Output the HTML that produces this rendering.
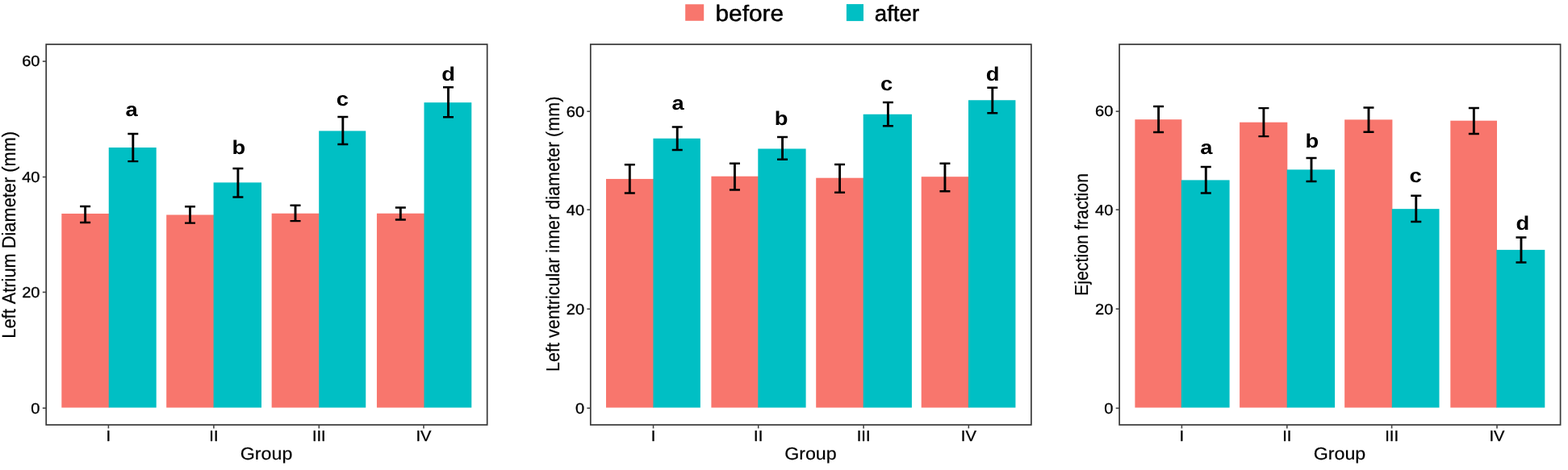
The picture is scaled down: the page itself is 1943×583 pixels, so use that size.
<!DOCTYPE html>
<html lang="en">
<head>
<meta charset="utf-8">
<title>Echocardiographic parameters before and after</title>
<style>
html,body{margin:0;padding:0;background:#fff;}
body{width:1943px;height:583px;overflow:hidden;}
svg{display:block;filter:blur(0.7px);}
text{font-kerning:none;text-rendering:geometricPrecision;}
</style>
</head>
<body>
<svg width="1943" height="583" viewBox="0 0 1943 583" font-family="'Liberation Sans', Arial, Helvetica, sans-serif">
<rect width="1943" height="583" fill="#ffffff"/>
<g class="legend">
<rect x="849.2" y="5.3" width="23.0" height="20.5" fill="#F8766D"/>
<text transform="translate(886.40 25.55) scale(1.075 1)" font-size="27.8" text-anchor="start" fill="#000000" stroke="#000000" stroke-width="0.47" stroke-linejoin="round">before</text>
<rect x="1048.9" y="5.1" width="21.1" height="21.0" fill="#00BFC4"/>
<text transform="translate(1083.80 25.55) scale(0.995 1)" font-size="27.8" text-anchor="start" fill="#000000" stroke="#000000" stroke-width="0.47" stroke-linejoin="round">after</text>
</g>
<g class="panel">
<rect x="76.30" y="265.00" width="59.05" height="240.60" fill="#F8766D"/>
<rect x="134.75" y="183.00" width="58.95" height="322.60" fill="#00BFC4"/>
<rect x="206.20" y="266.50" width="59.00" height="239.10" fill="#F8766D"/>
<rect x="264.60" y="226.40" width="59.40" height="279.20" fill="#00BFC4"/>
<rect x="336.65" y="264.75" width="59.15" height="240.85" fill="#F8766D"/>
<rect x="395.20" y="162.40" width="58.05" height="343.20" fill="#00BFC4"/>
<rect x="466.95" y="264.75" width="59.15" height="240.85" fill="#F8766D"/>
<rect x="525.50" y="127.15" width="58.80" height="378.45" fill="#00BFC4"/>
<path d="M99.12 256.00H112.12M99.12 276.00H112.12" stroke="#000" stroke-width="2.45" fill="none"/>
<path d="M105.62 256.00V276.00" stroke="#000" stroke-width="2.9" fill="none"/>
<path d="M158.32 165.90H171.32M158.32 200.10H171.32" stroke="#000" stroke-width="2.45" fill="none"/>
<path d="M164.82 165.90V200.10" stroke="#000" stroke-width="2.9" fill="none"/>
<path d="M229.00 256.30H242.00M229.00 276.60H242.00" stroke="#000" stroke-width="2.45" fill="none"/>
<path d="M235.50 256.30V276.60" stroke="#000" stroke-width="2.9" fill="none"/>
<path d="M288.40 208.90H301.40M288.40 244.40H301.40" stroke="#000" stroke-width="2.45" fill="none"/>
<path d="M294.90 208.90V244.40" stroke="#000" stroke-width="2.9" fill="none"/>
<path d="M359.52 254.80H372.52M359.52 274.10H372.52" stroke="#000" stroke-width="2.45" fill="none"/>
<path d="M366.02 254.80V274.10" stroke="#000" stroke-width="2.9" fill="none"/>
<path d="M418.33 144.90H431.33M418.33 178.90H431.33" stroke="#000" stroke-width="2.45" fill="none"/>
<path d="M424.83 144.90V178.90" stroke="#000" stroke-width="2.9" fill="none"/>
<path d="M489.83 257.50H502.83M489.83 272.50H502.83" stroke="#000" stroke-width="2.45" fill="none"/>
<path d="M496.33 257.50V272.50" stroke="#000" stroke-width="2.9" fill="none"/>
<path d="M549.00 108.15H562.00M549.00 145.15H562.00" stroke="#000" stroke-width="2.45" fill="none"/>
<path d="M555.50 108.15V145.15" stroke="#000" stroke-width="2.9" fill="none"/>
<text transform="translate(163.20 143.70) scale(1.14 1)" font-size="24.0" text-anchor="middle" font-weight="bold" fill="#000000">a</text>
<text transform="translate(295.90 190.90) scale(1.14 1)" font-size="24.0" text-anchor="middle" font-weight="bold" fill="#000000">b</text>
<text transform="translate(424.30 130.50) scale(1.14 1)" font-size="24.0" text-anchor="middle" font-weight="bold" fill="#000000">c</text>
<text transform="translate(555.50 99.50) scale(1.14 1)" font-size="24.0" text-anchor="middle" font-weight="bold" fill="#000000">d</text>
<rect x="57.20" y="55.00" width="546.50" height="472.00" fill="none" stroke="#383838" stroke-width="1.7"/>
<path d="M52.80 506.25H57.20" stroke="#444444" stroke-width="1.6"/>
<text transform="translate(49.50 513.10) scale(1.075 1)" font-size="18.7" text-anchor="end" fill="#000000" stroke="#000000" stroke-width="0.32" stroke-linejoin="round">0</text>
<path d="M52.80 362.45H57.20" stroke="#444444" stroke-width="1.6"/>
<text transform="translate(49.50 369.40) scale(1.075 1)" font-size="18.7" text-anchor="end" fill="#000000" stroke="#000000" stroke-width="0.32" stroke-linejoin="round">20</text>
<path d="M52.80 219.55H57.20" stroke="#444444" stroke-width="1.6"/>
<text transform="translate(49.50 226.40) scale(1.075 1)" font-size="18.7" text-anchor="end" fill="#000000" stroke="#000000" stroke-width="0.32" stroke-linejoin="round">40</text>
<path d="M52.80 76.10H57.20" stroke="#444444" stroke-width="1.6"/>
<text transform="translate(49.50 82.40) scale(1.075 1)" font-size="18.7" text-anchor="end" fill="#000000" stroke="#000000" stroke-width="0.32" stroke-linejoin="round">60</text>
<path d="M134.40 527.00V531.40" stroke="#444444" stroke-width="1.6"/>
<text transform="translate(134.40 546.80) scale(1.075 1)" font-size="18.7" text-anchor="middle" fill="#000000" stroke="#000000" stroke-width="0.32" stroke-linejoin="round">I</text>
<path d="M264.90 527.00V531.40" stroke="#444444" stroke-width="1.6"/>
<text transform="translate(264.90 546.80) scale(1.075 1)" font-size="18.7" text-anchor="middle" fill="#000000" stroke="#000000" stroke-width="0.32" stroke-linejoin="round">II</text>
<path d="M395.30 527.00V531.40" stroke="#444444" stroke-width="1.6"/>
<text transform="translate(395.30 546.80) scale(1.075 1)" font-size="18.7" text-anchor="middle" fill="#000000" stroke="#000000" stroke-width="0.32" stroke-linejoin="round">III</text>
<path d="M525.00 527.00V531.40" stroke="#444444" stroke-width="1.6"/>
<text transform="translate(525.00 546.80) scale(1.075 1)" font-size="18.7" text-anchor="middle" fill="#000000" stroke="#000000" stroke-width="0.32" stroke-linejoin="round">IV</text>
<text transform="translate(330.05 570.20) scale(1.075 1)" font-size="21.6" text-anchor="middle" fill="#000000" stroke="#000000" stroke-width="0.19" stroke-linejoin="round">Group</text>
<text transform="translate(18.90 291.30) scale(1.075 1) rotate(-90)" font-size="21.8" text-anchor="middle" fill="#000000" stroke="#000000" stroke-width="0.2" stroke-linejoin="round">Left Atrium Diameter (mm)</text>
</g>
<g class="panel">
<rect x="751.00" y="221.95" width="59.05" height="283.65" fill="#F8766D"/>
<rect x="809.45" y="171.75" width="58.40" height="333.85" fill="#00BFC4"/>
<rect x="881.40" y="218.70" width="58.50" height="286.90" fill="#F8766D"/>
<rect x="939.30" y="184.50" width="59.30" height="321.10" fill="#00BFC4"/>
<rect x="1011.20" y="220.70" width="59.10" height="284.90" fill="#F8766D"/>
<rect x="1069.70" y="141.75" width="60.20" height="363.85" fill="#00BFC4"/>
<rect x="1141.70" y="219.20" width="58.85" height="286.40" fill="#F8766D"/>
<rect x="1199.95" y="124.25" width="58.45" height="381.35" fill="#00BFC4"/>
<path d="M773.83 204.20H786.83M773.83 239.45H786.83" stroke="#000" stroke-width="2.45" fill="none"/>
<path d="M780.33 204.20V239.45" stroke="#000" stroke-width="2.9" fill="none"/>
<path d="M832.75 157.50H845.75M832.75 186.00H845.75" stroke="#000" stroke-width="2.45" fill="none"/>
<path d="M839.25 157.50V186.00" stroke="#000" stroke-width="2.9" fill="none"/>
<path d="M903.95 202.70H916.95M903.95 235.45H916.95" stroke="#000" stroke-width="2.45" fill="none"/>
<path d="M910.45 202.70V235.45" stroke="#000" stroke-width="2.9" fill="none"/>
<path d="M963.05 170.00H976.05M963.05 197.75H976.05" stroke="#000" stroke-width="2.45" fill="none"/>
<path d="M969.55 170.00V197.75" stroke="#000" stroke-width="2.9" fill="none"/>
<path d="M1034.05 203.95H1047.05M1034.05 238.70H1047.05" stroke="#000" stroke-width="2.45" fill="none"/>
<path d="M1040.55 203.95V238.70" stroke="#000" stroke-width="2.9" fill="none"/>
<path d="M1093.90 127.00H1106.90M1093.90 156.25H1106.90" stroke="#000" stroke-width="2.45" fill="none"/>
<path d="M1100.40 127.00V156.25" stroke="#000" stroke-width="2.9" fill="none"/>
<path d="M1164.42 202.70H1177.42M1164.42 237.20H1177.42" stroke="#000" stroke-width="2.45" fill="none"/>
<path d="M1170.92 202.70V237.20" stroke="#000" stroke-width="2.9" fill="none"/>
<path d="M1223.28 108.75H1236.28M1223.28 140.25H1236.28" stroke="#000" stroke-width="2.45" fill="none"/>
<path d="M1229.78 108.75V140.25" stroke="#000" stroke-width="2.9" fill="none"/>
<text transform="translate(840.00 135.50) scale(1.14 1)" font-size="24.0" text-anchor="middle" font-weight="bold" fill="#000000">a</text>
<text transform="translate(968.00 154.50) scale(1.14 1)" font-size="24.0" text-anchor="middle" font-weight="bold" fill="#000000">b</text>
<text transform="translate(1098.50 112.00) scale(1.14 1)" font-size="24.0" text-anchor="middle" font-weight="bold" fill="#000000">c</text>
<text transform="translate(1230.00 99.50) scale(1.14 1)" font-size="24.0" text-anchor="middle" font-weight="bold" fill="#000000">d</text>
<rect x="731.80" y="55.00" width="546.05" height="472.00" fill="none" stroke="#383838" stroke-width="1.7"/>
<path d="M727.40 506.30H731.80" stroke="#444444" stroke-width="1.6"/>
<text transform="translate(724.10 512.85) scale(1.075 1)" font-size="18.7" text-anchor="end" fill="#000000" stroke="#000000" stroke-width="0.32" stroke-linejoin="round">0</text>
<path d="M727.40 383.30H731.80" stroke="#444444" stroke-width="1.6"/>
<text transform="translate(724.10 390.00) scale(1.075 1)" font-size="18.7" text-anchor="end" fill="#000000" stroke="#000000" stroke-width="0.32" stroke-linejoin="round">20</text>
<path d="M727.40 260.10H731.80" stroke="#444444" stroke-width="1.6"/>
<text transform="translate(724.10 266.65) scale(1.075 1)" font-size="18.7" text-anchor="end" fill="#000000" stroke="#000000" stroke-width="0.32" stroke-linejoin="round">40</text>
<path d="M727.40 138.20H731.80" stroke="#444444" stroke-width="1.6"/>
<text transform="translate(724.10 144.65) scale(1.075 1)" font-size="18.7" text-anchor="end" fill="#000000" stroke="#000000" stroke-width="0.32" stroke-linejoin="round">60</text>
<path d="M809.55 527.00V531.40" stroke="#444444" stroke-width="1.6"/>
<text transform="translate(809.55 546.80) scale(1.075 1)" font-size="18.7" text-anchor="middle" fill="#000000" stroke="#000000" stroke-width="0.32" stroke-linejoin="round">I</text>
<path d="M939.70 527.00V531.40" stroke="#444444" stroke-width="1.6"/>
<text transform="translate(939.70 546.80) scale(1.075 1)" font-size="18.7" text-anchor="middle" fill="#000000" stroke="#000000" stroke-width="0.32" stroke-linejoin="round">II</text>
<path d="M1070.10 527.00V531.40" stroke="#444444" stroke-width="1.6"/>
<text transform="translate(1070.10 546.80) scale(1.075 1)" font-size="18.7" text-anchor="middle" fill="#000000" stroke="#000000" stroke-width="0.32" stroke-linejoin="round">III</text>
<path d="M1200.30 527.00V531.40" stroke="#444444" stroke-width="1.6"/>
<text transform="translate(1200.30 546.80) scale(1.075 1)" font-size="18.7" text-anchor="middle" fill="#000000" stroke="#000000" stroke-width="0.32" stroke-linejoin="round">IV</text>
<text transform="translate(1004.42 570.20) scale(1.075 1)" font-size="21.6" text-anchor="middle" fill="#000000" stroke="#000000" stroke-width="0.19" stroke-linejoin="round">Group</text>
<text transform="translate(692.50 290.30) scale(1.075 1) rotate(-90)" font-size="21.55" text-anchor="middle" fill="#000000" stroke="#000000" stroke-width="0.19" stroke-linejoin="round">Left ventricular inner diameter (mm)</text>
</g>
<g class="panel">
<rect x="1406.40" y="148.20" width="58.00" height="357.40" fill="#F8766D"/>
<rect x="1463.80" y="223.40" width="59.80" height="282.20" fill="#00BFC4"/>
<rect x="1536.10" y="151.70" width="59.20" height="353.90" fill="#F8766D"/>
<rect x="1594.70" y="210.40" width="59.40" height="295.20" fill="#00BFC4"/>
<rect x="1666.15" y="148.40" width="59.25" height="357.20" fill="#F8766D"/>
<rect x="1724.80" y="259.15" width="58.70" height="246.45" fill="#00BFC4"/>
<rect x="1797.30" y="149.70" width="57.70" height="355.90" fill="#F8766D"/>
<rect x="1854.40" y="309.90" width="59.90" height="195.70" fill="#00BFC4"/>
<path d="M1429.10 131.90H1442.10M1429.10 164.00H1442.10" stroke="#000" stroke-width="2.45" fill="none"/>
<path d="M1435.60 131.90V164.00" stroke="#000" stroke-width="2.9" fill="none"/>
<path d="M1487.80 206.90H1500.80M1487.80 239.40H1500.80" stroke="#000" stroke-width="2.45" fill="none"/>
<path d="M1494.30 206.90V239.40" stroke="#000" stroke-width="2.9" fill="none"/>
<path d="M1559.40 134.10H1572.40M1559.40 169.10H1572.40" stroke="#000" stroke-width="2.45" fill="none"/>
<path d="M1565.90 134.10V169.10" stroke="#000" stroke-width="2.9" fill="none"/>
<path d="M1618.50 195.90H1631.50M1618.50 224.90H1631.50" stroke="#000" stroke-width="2.45" fill="none"/>
<path d="M1625.00 195.90V224.90" stroke="#000" stroke-width="2.9" fill="none"/>
<path d="M1689.47 133.40H1702.47M1689.47 163.70H1702.47" stroke="#000" stroke-width="2.45" fill="none"/>
<path d="M1695.97 133.40V163.70" stroke="#000" stroke-width="2.9" fill="none"/>
<path d="M1748.25 242.65H1761.25M1748.25 274.90H1761.25" stroke="#000" stroke-width="2.45" fill="none"/>
<path d="M1754.75 242.65V274.90" stroke="#000" stroke-width="2.9" fill="none"/>
<path d="M1819.85 133.90H1832.85M1819.85 165.90H1832.85" stroke="#000" stroke-width="2.45" fill="none"/>
<path d="M1826.35 133.90V165.90" stroke="#000" stroke-width="2.9" fill="none"/>
<path d="M1878.45 294.40H1891.45M1878.45 325.40H1891.45" stroke="#000" stroke-width="2.45" fill="none"/>
<path d="M1884.95 294.40V325.40" stroke="#000" stroke-width="2.9" fill="none"/>
<text transform="translate(1494.90 190.60) scale(1.14 1)" font-size="24.0" text-anchor="middle" font-weight="bold" fill="#000000">a</text>
<text transform="translate(1625.80 183.00) scale(1.14 1)" font-size="24.0" text-anchor="middle" font-weight="bold" fill="#000000">b</text>
<text transform="translate(1754.00 226.00) scale(1.14 1)" font-size="24.0" text-anchor="middle" font-weight="bold" fill="#000000">c</text>
<text transform="translate(1886.80 285.35) scale(1.14 1)" font-size="24.0" text-anchor="middle" font-weight="bold" fill="#000000">d</text>
<rect x="1387.10" y="55.00" width="546.50" height="472.00" fill="none" stroke="#383838" stroke-width="1.7"/>
<path d="M1382.70 506.35H1387.10" stroke="#444444" stroke-width="1.6"/>
<text transform="translate(1379.40 513.00) scale(1.075 1)" font-size="18.7" text-anchor="end" fill="#000000" stroke="#000000" stroke-width="0.32" stroke-linejoin="round">0</text>
<path d="M1382.70 383.20H1387.10" stroke="#444444" stroke-width="1.6"/>
<text transform="translate(1379.40 390.00) scale(1.075 1)" font-size="18.7" text-anchor="end" fill="#000000" stroke="#000000" stroke-width="0.32" stroke-linejoin="round">20</text>
<path d="M1382.70 260.15H1387.10" stroke="#444444" stroke-width="1.6"/>
<text transform="translate(1379.40 266.65) scale(1.075 1)" font-size="18.7" text-anchor="end" fill="#000000" stroke="#000000" stroke-width="0.32" stroke-linejoin="round">40</text>
<path d="M1382.70 138.15H1387.10" stroke="#444444" stroke-width="1.6"/>
<text transform="translate(1379.40 144.45) scale(1.075 1)" font-size="18.7" text-anchor="end" fill="#000000" stroke="#000000" stroke-width="0.32" stroke-linejoin="round">60</text>
<path d="M1464.40 527.00V531.40" stroke="#444444" stroke-width="1.6"/>
<text transform="translate(1464.40 546.80) scale(1.075 1)" font-size="18.7" text-anchor="middle" fill="#000000" stroke="#000000" stroke-width="0.32" stroke-linejoin="round">I</text>
<path d="M1594.80 527.00V531.40" stroke="#444444" stroke-width="1.6"/>
<text transform="translate(1594.80 546.80) scale(1.075 1)" font-size="18.7" text-anchor="middle" fill="#000000" stroke="#000000" stroke-width="0.32" stroke-linejoin="round">II</text>
<path d="M1724.60 527.00V531.40" stroke="#444444" stroke-width="1.6"/>
<text transform="translate(1724.60 546.80) scale(1.075 1)" font-size="18.7" text-anchor="middle" fill="#000000" stroke="#000000" stroke-width="0.32" stroke-linejoin="round">III</text>
<path d="M1855.00 527.00V531.40" stroke="#444444" stroke-width="1.6"/>
<text transform="translate(1855.00 546.80) scale(1.075 1)" font-size="18.7" text-anchor="middle" fill="#000000" stroke="#000000" stroke-width="0.32" stroke-linejoin="round">IV</text>
<text transform="translate(1659.95 570.20) scale(1.075 1)" font-size="21.6" text-anchor="middle" fill="#000000" stroke="#000000" stroke-width="0.19" stroke-linejoin="round">Group</text>
<text transform="translate(1348.40 291.00) scale(1.075 1) rotate(-90)" font-size="21.4" text-anchor="middle" fill="#000000" stroke="#000000" stroke-width="0.19" stroke-linejoin="round">Ejection fraction</text>
</g>
</svg>
</body>
</html>
